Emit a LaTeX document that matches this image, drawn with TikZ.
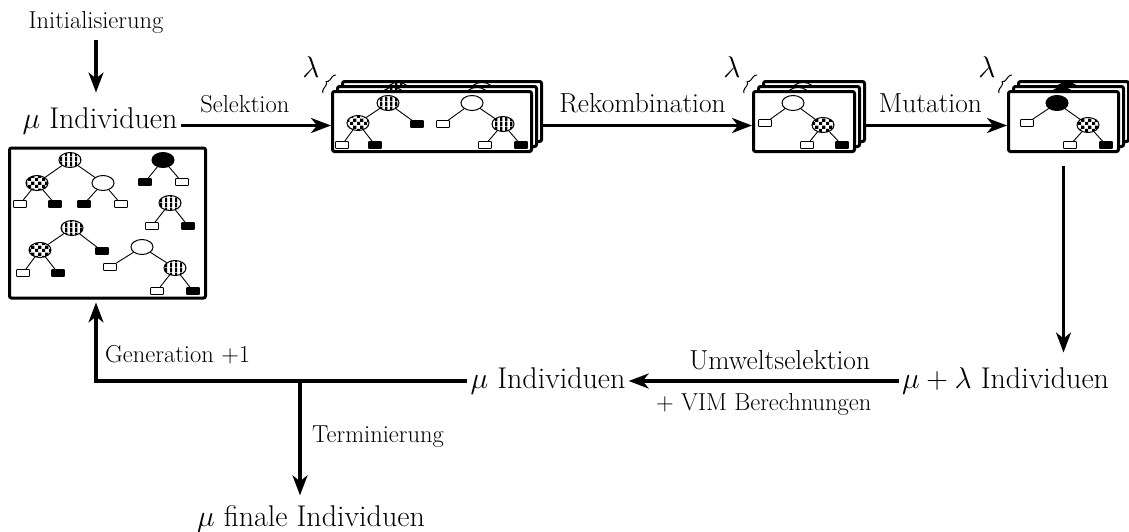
\RequirePackage{fix-cm}
\documentclass[tikz,border=0pt]{standalone}
\usetikzlibrary{arrows.meta,shapes.geometric,decorations.pathreplacing,patterns}

% fill patterns for the tree nodes
\pgfdeclarepatternformonly{vstripes}{\pgfqpoint{0pt}{0pt}}{\pgfqpoint{5pt}{5pt}}{\pgfqpoint{5pt}{5pt}}{%
  \pgfpathrectangle{\pgfqpoint{0pt}{0pt}}{\pgfqpoint{2.6pt}{5pt}}\pgfusepath{fill}}
\pgfdeclarepatternformonly{checks}{\pgfqpoint{0pt}{0pt}}{\pgfqpoint{7pt}{7pt}}{\pgfqpoint{7pt}{7pt}}{%
  \pgfpathrectangle{\pgfqpoint{0pt}{0pt}}{\pgfqpoint{3.5pt}{3.5pt}}%
  \pgfpathrectangle{\pgfqpoint{3.5pt}{3.5pt}}{\pgfqpoint{3.5pt}{3.5pt}}\pgfusepath{fill}}

\newcommand\fsbig{\fontsize{30}{36}\selectfont}
\newcommand\fssmall{\fontsize{24.5}{30}\selectfont}
\newcommand\fsstep{\fontsize{27.5}{33}\selectfont}

\tikzset{
  big/.style={font=\fsbig, inner sep=3pt},
  lbl/.style={font=\fssmall, inner sep=2pt},
  steplbl/.style={font=\fsstep, inner sep=2pt},
  flow/.style={line width=3.1pt, -{Stealth[length=20pt,width=15pt,inset=6pt]}},
  card/.style={draw, line width=3pt, rounded corners=2pt, fill=white, inner sep=0pt},
  popbox/.style={draw, line width=3pt, rounded corners=2pt, inner sep=0pt},
  edge/.style={line width=0.9pt},
  tnode/.style={ellipse, draw, line width=1pt, inner sep=0pt, minimum width=22pt, minimum height=15pt},
  sn/.style={tnode, preaction={fill=white}, pattern=vstripes},
  cn/.style={tnode, preaction={fill=white}, pattern=checks},
  wn/.style={tnode, fill=white},
  bn/.style={tnode, fill=black},
  leaf/.style={rectangle, draw, line width=0.9pt, inner sep=0pt, minimum width=13pt, minimum height=7pt, rounded corners=0.8pt},
  wl/.style={leaf, fill=white},
  bl/.style={leaf, fill=black},
  brc/.style={decorate, decoration={brace, amplitude=4pt}, line width=1pt},
  lam/.style={font=\fsbig, inner sep=0pt},
  % card contents, placed at the card's top-left corner
  cardS/.pic={
    \node[sn] (-a) at (57,13) {};
    \node[cn] (-b) at (27,33) {};
    \node[bl] (-c) at (86,34) {};
    \node[wl] (-d) at (11,55) {};
    \node[bl] (-e) at (44,55) {};
    \node[wn] (-f) at (141,13) {};
    \node[wl] (-g) at (112,34) {};
    \node[sn] (-h) at (172,34) {};
    \node[wl] (-i) at (154,55) {};
    \node[bl] (-j) at (190,55) {};
    \draw[edge] (-a) -- (-b) (-a) -- (-c) (-b) -- (-d) (-b) -- (-e)
                (-f) -- (-g) (-f) -- (-h) (-h) -- (-i) (-h) -- (-j);
  },
  cardR/.pic={
    \node[wn] (-a) at (41,13) {};
    \node[wl] (-b) at (13,33) {};
    \node[cn] (-c) at (71,35) {};
    \node[wl] (-d) at (55,55) {};
    \node[bl] (-e) at (90,55) {};
    \draw[edge] (-a) -- (-b) (-a) -- (-c) (-c) -- (-d) (-c) -- (-e);
  },
  cardM/.pic={
    \node[bn] (-a) at (50,13) {};
    \node[wl] (-b) at (20,33) {};
    \node[cn] (-c) at (81,35) {};
    \node[wl] (-d) at (63,55) {};
    \node[bl] (-e) at (99,55) {};
    \draw[edge] (-a) -- (-b) (-a) -- (-c) (-c) -- (-d) (-c) -- (-e);
  },
}

\begin{document}
\begin{tikzpicture}[x=1pt, y=-1pt]
\useasboundingbox (0,0) rectangle (1129,531);

% height of the upper row of arrows
\coordinate (row) at (0,125.5);

% ---------- start population ----------
\node[lbl] (init) at (96,22) {Initialisierung};
\node[big] (mu1) at (100,121) {$\mu$ Individuen};
\draw[flow, shorten <=5pt, shorten >=12pt] (init.south) -- (init.south |- mu1.north);

\node[popbox, minimum width=196pt, minimum height=150pt] (pop) at (107.5,223) {};
\node[sn] (p1) at (70,160) {};
\node[cn] (p2) at (37,183) {};
\node[wn] (p3) at (103,183) {};
\node[wl] (p4) at (20,204) {};
\node[bl] (p5) at (55,204) {};
\node[bl] (p6) at (84,204) {};
\node[wl] (p7) at (121,204) {};
\node[bn] (p8) at (163,160) {};
\node[bl] (p9) at (145,182) {};
\node[wl] (p10) at (182,182) {};
\node[sn] (p11) at (170,203) {};
\node[wl] (p12) at (152,226) {};
\node[bl] (p13) at (188,226) {};
\node[sn] (p14) at (72,228) {};
\node[cn] (p15) at (40,250) {};
\node[bl] (p16) at (102,251) {};
\node[wl] (p17) at (23,273) {};
\node[bl] (p18) at (58,273) {};
\node[wn] (p19) at (142,247) {};
\node[wl] (p20) at (110,267) {};
\node[sn] (p21) at (175,268) {};
\node[wl] (p22) at (157,291) {};
\node[bl] (p23) at (193,291) {};
\draw[edge] (p1) -- (p2) (p1) -- (p3) (p2) -- (p4) (p2) -- (p5) (p3) -- (p6) (p3) -- (p7)
            (p8) -- (p9) (p8) -- (p10) (p11) -- (p12) (p11) -- (p13)
            (p14) -- (p15) (p14) -- (p16) (p15) -- (p17) (p15) -- (p18)
            (p19) -- (p20) (p19) -- (p21) (p21) -- (p22) (p21) -- (p23);

% ---------- selected parents ----------
\node[card, minimum width=199pt, minimum height=60pt] (s1c) at (442,111.5) {};
\pic (s1cp) at (341,77) {cardS};
\node[card, minimum width=199pt, minimum height=60pt] (s1b) at (437,116.5) {};
\pic (s1bp) at (336,82) {cardS};
\node[card, minimum width=199pt, minimum height=60pt] (s1) at (432,121.5) {};
\pic (s1p) at (331,90) {cardS};
\coordinate (s1brA) at (323,93);
\coordinate (s1brB) at (336,75);
\draw[brc] (s1brA) -- (s1brB);
\node[lam] (lam1) at (311,67) {$\lambda$};

% ---------- recombined offspring ----------
\node[card, minimum width=101pt, minimum height=60pt] (r1c) at (814,111.5) {};
\pic (r1cp) at (762,77) {cardR};
\node[card, minimum width=101pt, minimum height=60pt] (r1b) at (809,116.5) {};
\pic (r1bp) at (757,82) {cardR};
\node[card, minimum width=101pt, minimum height=60pt] (r1) at (804,121.5) {};
\pic (r1p) at (752,90) {cardR};
\coordinate (r1brA) at (744,93);
\coordinate (r1brB) at (757,75);
\draw[brc] (r1brA) -- (r1brB);
\node[lam] (lam2) at (732,67) {$\lambda$};

% ---------- mutated offspring ----------
\node[card, minimum width=110pt, minimum height=60pt] (m1c) at (1073.5,111.5) {};
\pic (m1cp) at (1017,77) {cardM};
\node[card, minimum width=110pt, minimum height=60pt] (m1b) at (1068.5,116.5) {};
\pic (m1bp) at (1012,82) {cardM};
\node[card, minimum width=110pt, minimum height=60pt] (m1) at (1063.5,121.5) {};
\pic (m1p) at (1007,90) {cardM};
\coordinate (m1brA) at (999,93);
\coordinate (m1brB) at (1012,75);
\draw[brc] (m1brA) -- (m1brB);
\node[lam] (lam3) at (987,67) {$\lambda$};

% ---------- variation steps ----------
\draw[flow] (mu1.east |- row) -- node[lbl, above=9pt, xshift=-11pt] (lsel) {Selektion} (s1.west |- row);
\draw[flow] (s1c.east |- row) -- node[steplbl, above=9pt, xshift=-5pt] (lrek) {Rekombination} (r1.west |- row);
\draw[flow] (r1c.east |- row) -- node[steplbl, above=9pt, xshift=-6pt] (lmut) {Mutation} (m1.west |- row);

% ---------- survivor selection ----------
\node[big] (ml) at (1005.5,381) {$\mu+\lambda$ Individuen};
\node[big] (mb) at (548,381) {$\mu$ Individuen};
\draw[flow, shorten <=13pt, shorten >=12pt] (m1.south) -- (m1.south |- ml.north);
\draw[flow] (ml) -- node[steplbl, above=8pt, xshift=16pt] (lumw) {Umweltselektion}
                    node[lbl, below=9pt] (lvim) {$+$ VIM Berechnungen} (mb);

% ---------- next generation / termination ----------
\coordinate (turn) at (96,381);
\coordinate (branch) at (300,381);
\draw[flow, shorten >=3pt] (mb.west) -- (turn) -- (turn |- pop.south);
\node[lbl, anchor=west] (gen) at (103,355) {Generation $+1$};
\node[big] (fin) at (311,519) {$\mu$ finale Individuen};
\draw[flow, shorten >=7pt] (branch) -- (branch |- fin.north);
\node[lbl, anchor=west] (term) at (310,437) {Terminierung};
\end{tikzpicture}
\end{document}
